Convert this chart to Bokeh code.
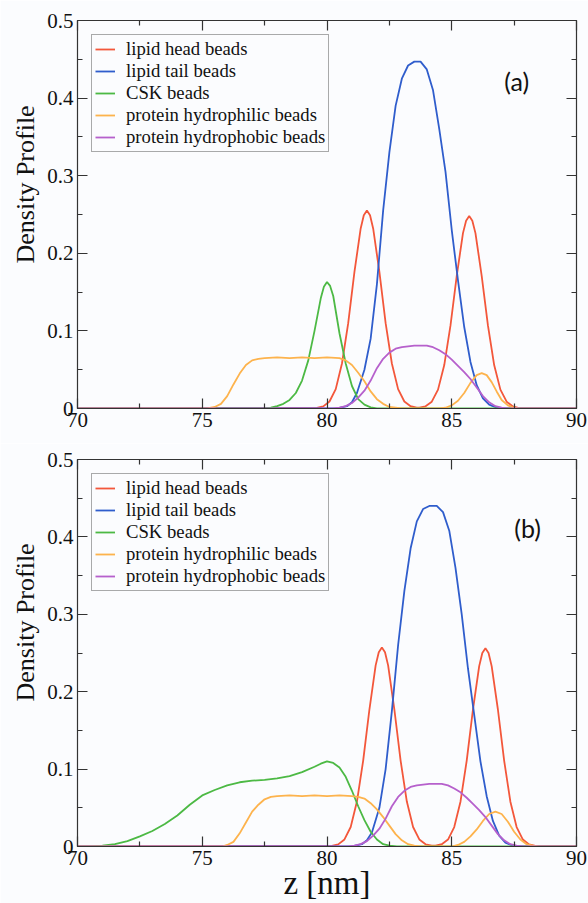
from bokeh.plotting import figure
from bokeh.models import Range1d, LinearAxis, FixedTicker, Label, Title
from bokeh.layouts import column
from bokeh.embed import file_html
from bokeh.resources import INLINE

# ---------------- data ----------------
X_TICKS = [70, 75, 80, 85, 90]
X_MINOR = [72.5, 77.5, 82.5, 87.5]
Y_TICKS = [0, 0.1, 0.2, 0.3, 0.4, 0.5]
Y_TICK_LABELS = ["0", "0.1", "0.2", "0.3", "0.4", "0.5"]
Y_MINOR = [0.05, 0.15, 0.25, 0.35, 0.45]

NAMES = ["lipid head beads", "lipid tail beads", "CSK beads",
         "protein hydrophilic beads", "protein hydrophobic beads"]
COLORS = ["#f3573b", "#2f5dcc", "#4cb944", "#fdb34d", "#b660cc"]

# panel (a)
a_head_z = [70, 79.6, 79.85, 80.1, 80.35, 80.6, 80.85, 81.1, 81.35, 81.475, 81.6, 81.725, 81.85, 82.1, 82.35,
            82.6, 82.85, 83.1, 83.35, 83.6, 83.7, 83.95, 84.2, 84.45, 84.7, 84.95, 85.2, 85.45, 85.575, 85.7,
            85.825, 85.95, 86.2, 86.45, 86.7, 86.95, 87.2, 87.45, 87.7, 87.95, 90]
a_head_d = [0, 0.0007, 0.0027, 0.009, 0.025, 0.058, 0.110, 0.176, 0.232, 0.249, 0.255, 0.249, 0.232, 0.176, 0.110,
            0.058, 0.025, 0.009, 0.0029, 0.0012, 0.0012, 0.0028, 0.0088, 0.0243, 0.056, 0.107, 0.171, 0.226, 0.242, 0.248,
            0.242, 0.226, 0.171, 0.107, 0.056, 0.0243, 0.0088, 0.0026, 0.0006, 0.0001, 0]

a_tail_z = [70, 80.4, 80.8, 81.0, 81.2, 81.5, 81.75, 82.0, 82.25, 82.5, 82.75, 83.0, 83.25, 83.5, 83.75,
            84.0, 84.25, 84.5, 84.75, 85.0, 85.25, 85.5, 85.75, 86.0, 86.25, 86.5, 86.8, 87.2, 90]
a_tail_d = [0, 0, 0.003, 0.008, 0.02, 0.05, 0.09, 0.16, 0.255, 0.33, 0.39, 0.425, 0.442, 0.447, 0.447,
            0.437, 0.41, 0.36, 0.305, 0.23, 0.165, 0.105, 0.06, 0.03, 0.013, 0.005, 0.001, 0, 0]

a_csk_z = [70, 77.5, 77.75, 78.0, 78.25, 78.5, 78.75, 79.0, 79.25, 79.5, 79.75, 79.875, 80.0, 80.125, 80.25,
           80.5, 80.75, 81.0, 81.25, 81.5, 81.75, 82.0, 90]
a_csk_d = [0, 0, 0.001, 0.003, 0.006, 0.011, 0.02, 0.036, 0.062, 0.1, 0.142, 0.157, 0.163, 0.158, 0.145,
           0.097, 0.058, 0.029, 0.012, 0.005, 0.0015, 0, 0]

a_phil_z = [70, 75.2, 75.5, 75.75, 76.0, 76.25, 76.5, 76.75, 77.0, 77.25, 77.5, 78.0, 78.5, 79.0, 79.5,
            80.0, 80.5, 80.75, 81.0, 81.25, 81.5, 81.75, 82.0, 82.25, 82.5, 82.75, 83.0, 84.5, 84.75, 85.0,
            85.25, 85.5, 85.75, 86.0, 86.2, 86.4, 86.6, 86.8, 87.0, 87.25, 87.5, 87.75, 90]
a_phil_d = [0, 0, 0.002, 0.006, 0.016, 0.031, 0.045, 0.056, 0.062, 0.064, 0.065, 0.066, 0.065, 0.066, 0.065,
            0.066, 0.065, 0.062, 0.056, 0.046, 0.035, 0.022, 0.012, 0.006, 0.002, 0.001, 0, 0, 0.001, 0.004,
            0.01, 0.02, 0.033, 0.043, 0.0455, 0.043, 0.034, 0.022, 0.011, 0.004, 0.001, 0, 0]

a_phob_z = [70, 80.25, 80.5, 80.75, 81.0, 81.25, 81.5, 81.75, 82.0, 82.25, 82.5, 82.75, 83.0, 83.25, 83.5,
            83.75, 84.0, 84.25, 84.5, 84.75, 85.0, 85.25, 85.5, 85.75, 86.0, 86.25, 86.5, 86.75, 87.0, 87.25, 90]
a_phob_d = [0, 0, 0.001, 0.003, 0.007, 0.014, 0.023, 0.036, 0.052, 0.064, 0.072, 0.077, 0.079, 0.080, 0.081,
            0.081, 0.081, 0.079, 0.075, 0.070, 0.063, 0.055, 0.047, 0.038, 0.027, 0.016, 0.008, 0.003, 0.001, 0, 0]

# panel (b)
b_head_z = [70, 80.2, 80.45, 80.7, 80.95, 81.2, 81.45, 81.7, 81.95, 82.075, 82.2, 82.325, 82.45, 82.7, 82.95,
            83.2, 83.45, 83.7, 83.95, 84.2, 84.35, 84.6, 84.85, 85.1, 85.35, 85.6, 85.85, 86.1, 86.225, 86.35,
            86.475, 86.6, 86.85, 87.1, 87.35, 87.6, 87.85, 88.1, 88.35, 90]
b_head_d = [0, 0.0007, 0.0027, 0.0091, 0.0252, 0.0581, 0.111, 0.177, 0.234, 0.251, 0.257, 0.251, 0.234, 0.177, 0.111,
            0.0581, 0.0252, 0.0091, 0.0029, 0.0011, 0.0012, 0.0029, 0.009, 0.0251, 0.0579, 0.111, 0.177, 0.233, 0.250, 0.256,
            0.250, 0.233, 0.177, 0.111, 0.0579, 0.0251, 0.009, 0.0027, 0.0007, 0]

b_tail_z = [70, 81.0, 81.4, 81.6, 81.8, 82.1, 82.35, 82.6, 82.85, 83.1, 83.35, 83.6, 83.85, 84.1, 84.4,
            84.65, 84.9, 85.15, 85.4, 85.65, 85.9, 86.15, 86.4, 86.65, 86.9, 87.15, 87.45, 87.8, 90]
b_tail_d = [0, 0, 0.003, 0.008, 0.018, 0.05, 0.1, 0.175, 0.26, 0.33, 0.385, 0.42, 0.436, 0.44, 0.44,
            0.432, 0.408, 0.36, 0.3, 0.23, 0.17, 0.11, 0.065, 0.033, 0.014, 0.005, 0.001, 0, 0]

b_csk_z = [70, 70.5, 71.0, 71.5, 72.0, 72.5, 73.0, 73.5, 74.0, 74.5, 75.0, 75.5, 76.0, 76.5, 77.0, 77.5,
           78.0, 78.5, 79.0, 79.5, 79.75, 80.0, 80.25, 80.5, 80.75, 81.0, 81.25, 81.5, 81.75, 82.0, 82.25,
           82.5, 82.8, 90]
b_csk_d = [0, 0, 0.001, 0.003, 0.007, 0.013, 0.02, 0.029, 0.04, 0.054, 0.066, 0.073, 0.079, 0.083, 0.085, 0.086,
           0.088, 0.091, 0.096, 0.103, 0.107, 0.110, 0.108, 0.102, 0.090, 0.072, 0.052, 0.034, 0.019, 0.009, 0.003,
           0.001, 0, 0]

b_phil_z = [70, 75.8, 76.0, 76.25, 76.5, 76.75, 77.0, 77.25, 77.5, 77.75, 78.0, 78.5, 79.0, 79.5, 80.0,
            80.5, 81.0, 81.25, 81.5, 81.75, 82.0, 82.25, 82.5, 82.75, 83.0, 83.25, 83.5, 83.75, 85.0, 85.25,
            85.5, 85.75, 86.0, 86.25, 86.5, 86.75, 87.0, 87.25, 87.5, 87.75, 88.0, 88.25, 88.5, 90]
b_phil_d = [0, 0, 0.002, 0.006, 0.017, 0.031, 0.045, 0.054, 0.061, 0.064, 0.065, 0.066, 0.065, 0.066, 0.065,
            0.066, 0.065, 0.064, 0.062, 0.056, 0.048, 0.038, 0.027, 0.016, 0.008, 0.003, 0.001, 0, 0, 0.002,
            0.006, 0.013, 0.022, 0.033, 0.042, 0.045, 0.042, 0.032, 0.019, 0.009, 0.003, 0.001, 0, 0]

b_phob_z = [70, 80.85, 81.1, 81.35, 81.6, 81.85, 82.1, 82.35, 82.6, 82.85, 83.1, 83.35, 83.6, 83.85, 84.1,
            84.35, 84.6, 84.85, 85.1, 85.35, 85.6, 85.85, 86.1, 86.35, 86.6, 86.85, 87.1, 87.35, 87.6, 87.85, 90]
b_phob_d = [0, 0, 0.001, 0.003, 0.007, 0.014, 0.023, 0.036, 0.052, 0.064, 0.072, 0.077, 0.079, 0.080, 0.081,
            0.081, 0.081, 0.079, 0.075, 0.070, 0.063, 0.055, 0.047, 0.038, 0.027, 0.016, 0.008, 0.003, 0.001, 0, 0]

PANEL_A = [(a_head_z, a_head_d), (a_tail_z, a_tail_d), (a_csk_z, a_csk_d),
           (a_phil_z, a_phil_d), (a_phob_z, a_phob_d)]
PANEL_B = [(b_head_z, b_head_d), (b_tail_z, b_tail_d), (b_csk_z, b_csk_d),
           (b_phil_z, b_phil_d), (b_phob_z, b_phob_d)]

# ---------------- style ----------------
BG = "#fbfcfe"
AX = "#333333"
SERIF = "Liberation Serif"


def style_axis(ax, is_x, show_labels):
    if is_x:
        ax.ticker = FixedTicker(ticks=X_TICKS, minor_ticks=X_MINOR)
    else:
        ax.ticker = FixedTicker(ticks=Y_TICKS, minor_ticks=Y_MINOR)
        ax.major_label_overrides = {t: s for t, s in zip(Y_TICKS, Y_TICK_LABELS)}
    ax.major_tick_in = 10
    ax.major_tick_out = 0
    ax.minor_tick_in = 5
    ax.minor_tick_out = 0
    ax.axis_line_color = AX
    ax.axis_line_width = 1.2
    ax.major_tick_line_color = AX
    ax.major_tick_line_width = 1.2
    ax.minor_tick_line_color = AX
    ax.minor_tick_line_width = 1.2
    ax.major_label_text_font = SERIF
    ax.major_label_text_font_style = "normal"
    if show_labels:
        ax.major_label_text_font_size = "21px"
        ax.major_label_text_color = "#111111"
        ax.major_label_standoff = 4
    else:
        ax.major_label_text_font_size = "1px"
        ax.major_label_text_color = None
        ax.major_label_standoff = 0


def make_panel(series, tag, tag_x, tag_y, height, border_top, border_bottom, with_xlabel):
    p = figure(width=588, height=height, x_range=Range1d(70, 90), y_range=Range1d(0, 0.5),
               output_backend="svg", toolbar_location=None,
               min_border_left=77, min_border_right=12, min_border_top=border_top,
               min_border_bottom=border_bottom,
               background_fill_color=BG, border_fill_color=BG,
               outline_line_color=AX)
    p.grid.visible = False
    style_axis(p.xaxis[0], True, True)
    style_axis(p.yaxis[0], False, True)
    top = LinearAxis()
    style_axis(top, True, False)
    p.add_layout(top, "above")
    right = LinearAxis()
    style_axis(right, False, False)
    p.add_layout(right, "right")

    if with_xlabel:
        xa = p.below[0]
        xa.axis_label = "z [nm]"
        xa.axis_label_text_font = SERIF
        xa.axis_label_text_font_style = "normal"
        xa.axis_label_text_font_size = "33px"
        xa.axis_label_text_color = "#111111"
        xa.axis_label_standoff = -3

    p.add_layout(Title(text="Density Profile", align="left", offset=145, standoff=9,
                       text_font=SERIF, text_font_size="26px", text_font_style="normal",
                       text_color="#111111"), "left")

    for (z, d), name, col in zip(series, NAMES, COLORS):
        p.line(z, d, line_color=col, line_width=1.8, legend_label=name)

    lg = p.legend[0]
    lg.location = "top_left"
    lg.margin = 14
    lg.padding = 3
    lg.spacing = 0
    lg.glyph_width = 20
    lg.glyph_height = 18
    lg.label_standoff = 11
    lg.label_height = 18
    lg.label_text_font = SERIF
    lg.label_text_font_size = "18.7px"
    lg.label_text_color = "#111111"
    lg.border_line_color = "#555555"
    lg.border_line_width = 1
    lg.background_fill_color = BG
    lg.background_fill_alpha = 1.0

    p.add_layout(Label(x=tag_x, y=tag_y, text=tag, text_font="Lato", text_font_size="25px",
                       text_color="#111111", text_align="center", text_baseline="middle"))
    return p


p1 = make_panel(PANEL_A, "(a)", 87.6, 0.422, 443, 20, 35, False)
p2 = make_panel(PANEL_B, "(b)", 88.04, 0.412, 460, 16, 56, True)

layout = column(p1, p2)
open("out.html", "w").write(file_html(layout, INLINE))
